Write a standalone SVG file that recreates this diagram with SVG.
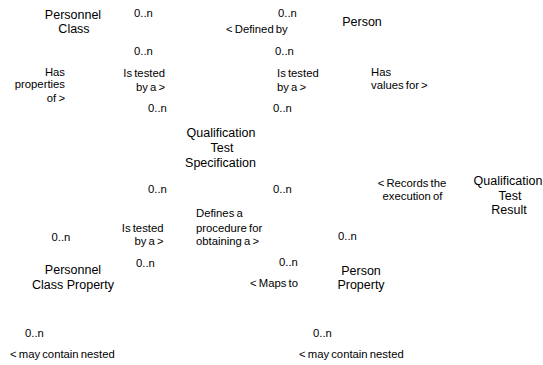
<svg xmlns="http://www.w3.org/2000/svg" width="543" height="365" viewBox="0 0 543 365">
<style>
text{font-family:"Liberation Sans",Arial,sans-serif;fill:#000}
.n{font-size:12.5px;text-anchor:middle}
.l{font-size:11.3px;word-spacing:-1px}
.m{text-anchor:middle}
.e{text-anchor:end}
</style>
<rect width="543" height="365" fill="#fff"/>
<g id="personnel-class"><text class="n" x="73" y="19">Personnel</text><text class="n" x="74" y="32.5">Class</text></g>
<g id="person"><text class="n" x="362" y="26">Person</text></g>
<g id="qualification-test-specification"><text class="n" x="221" y="137.3">Qualification</text><text class="n" x="222" y="151.7">Test</text><text class="n" x="220.5" y="166.7">Specification</text></g>
<g id="qualification-test-result"><text class="n" x="508" y="185">Qualification</text><text class="n" x="510" y="200">Test</text><text class="n" x="509" y="214.3">Result</text></g>
<g id="personnel-class-property"><text class="n" x="73" y="274">Personnel</text><text class="n" x="73" y="289.3">Class Property</text></g>
<g id="person-property"><text class="n" x="361" y="275">Person</text><text class="n" x="361" y="289.3">Property</text></g>
<g id="connectors">
<text class="l" x="134" y="17">0..n</text>
<text class="l" x="278" y="16.5">0..n</text>
<text class="l" x="226" y="33">&lt; Defined by</text>
<text class="l" x="134" y="55">0..n</text>
<text class="l" x="275" y="55">0..n</text>
<text class="l e" x="65" y="76">Has</text>
<text class="l e" x="65" y="88">properties</text>
<text class="l e" x="65" y="102">of &gt;</text>
<text class="l e" x="165" y="77">Is tested</text>
<text class="l e" x="165" y="90.5">by a &gt;</text>
<text class="l" x="277" y="77">Is tested</text>
<text class="l" x="277" y="90.5">by a &gt;</text>
<text class="l" x="371" y="76">Has</text>
<text class="l" x="371" y="89.3">values for &gt;</text>
<text class="l" x="148" y="111.7">0..n</text>
<text class="l" x="273" y="111.7">0..n</text>
<text class="l" x="148" y="193.3">0..n</text>
<text class="l" x="273" y="192.7">0..n</text>
<text class="l m" x="412" y="186.7">&lt; Records the</text>
<text class="l m" x="412.5" y="200">execution of</text>
<text class="l" x="196" y="217.3">Defines a</text>
<text class="l" x="196" y="231.5">procedure for</text>
<text class="l" x="196" y="245">obtaining a &gt;</text>
<text class="l e" x="163.5" y="231.7">Is tested</text>
<text class="l e" x="163.5" y="245">by a &gt;</text>
<text class="l" x="51.5" y="240.7">0..n</text>
<text class="l" x="338" y="240">0..n</text>
<text class="l" x="136" y="266.7">0..n</text>
<text class="l" x="279" y="266">0..n</text>
<text class="l" x="250" y="286.7">&lt; Maps to</text>
<text class="l" x="25" y="337.3">0..n</text>
<text class="l" x="10" y="358">&lt; may contain nested</text>
<text class="l" x="313" y="336.7">0..n</text>
<text class="l" x="299" y="358">&lt; may contain nested</text>
</g>
</svg>
